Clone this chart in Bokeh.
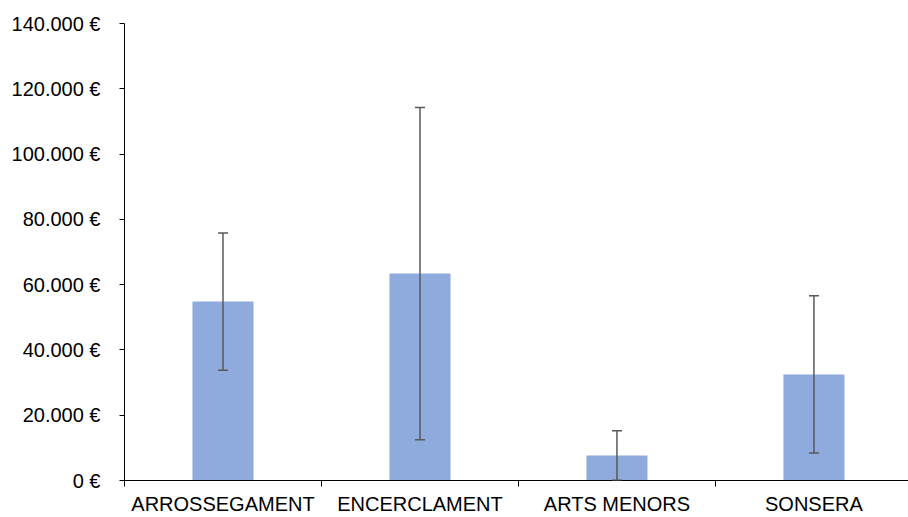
from bokeh.plotting import figure
from bokeh.models import FixedTicker, Range1d, ColumnDataSource, Whisker
from bokeh.embed import file_html
from bokeh.resources import INLINE

categories = ["ARROSSEGAMENT", "ENCERCLAMENT", "ARTS MENORS", "SONSERA"]
means = [54800, 63400, 7650, 32500]
errors = [21000, 50900, 7600, 24100]
y_ticks = [0, 20000, 40000, 60000, 80000, 100000, 120000, 140000]
y_tick_labels = ["0 €", "20.000 €", "40.000 €", "60.000 €", "80.000 €",
                 "100.000 €", "120.000 €", "140.000 €"]

xs = [i + 0.5 for i in range(len(categories))]
src = ColumnDataSource(dict(
    x=xs, top=means,
    upper=[m + e for m, e in zip(means, errors)],
    lower=[m - e for m, e in zip(means, errors)],
))

p = figure(width=908, height=517, output_backend="svg", toolbar_location=None,
           x_range=Range1d(0, 3.98), y_range=Range1d(0, 140000),
           min_border_left=124, min_border_top=23, min_border_right=0,
           min_border_bottom=37, frame_width=784, frame_height=457)
p.outline_line_color = None
p.grid.visible = False
p.background_fill_color = "white"
p.border_fill_color = "white"

p.vbar(x="x", top="top", width=0.31, bottom=0, source=src,
       fill_color="#8FAADC", line_color=None)

w = Whisker(base="x", upper="upper", lower="lower", source=src,
            line_color="#595959", line_width=1.5, level="overlay")
w.upper_head.line_color = "#595959"
w.lower_head.line_color = "#595959"
w.upper_head.size = 10
w.lower_head.size = 10
w.upper_head.line_width = 1.5
w.lower_head.line_width = 1.5
p.add_layout(w)

font = "Liberation Sans"
xa = p.xaxis[0]
xa.ticker = FixedTicker(ticks=xs, minor_ticks=list(range(len(categories) + 1)))
xa.major_label_overrides = {x: c for x, c in zip(xs, categories)}
xa.major_tick_out = 0
xa.major_tick_in = 0
xa.minor_tick_out = 6
xa.minor_tick_in = 0
xa.minor_tick_line_color = "black"
xa.axis_line_color = "black"
xa.major_label_text_font = font
xa.major_label_text_font_size = "20px"
xa.major_label_text_color = "black"
xa.major_label_standoff = 6

ya = p.yaxis[0]
ya.ticker = FixedTicker(ticks=y_ticks, minor_ticks=[])
ya.major_label_overrides = {t: l for t, l in zip(y_ticks, y_tick_labels)}
ya.major_tick_out = 5
ya.major_tick_in = 0
ya.major_tick_line_color = "black"
ya.axis_line_color = "black"
ya.major_label_text_font = font
ya.major_label_text_font_size = "20px"
ya.major_label_text_color = "black"
ya.major_label_standoff = 19

open("out.html", "w").write(file_html(p, INLINE))
